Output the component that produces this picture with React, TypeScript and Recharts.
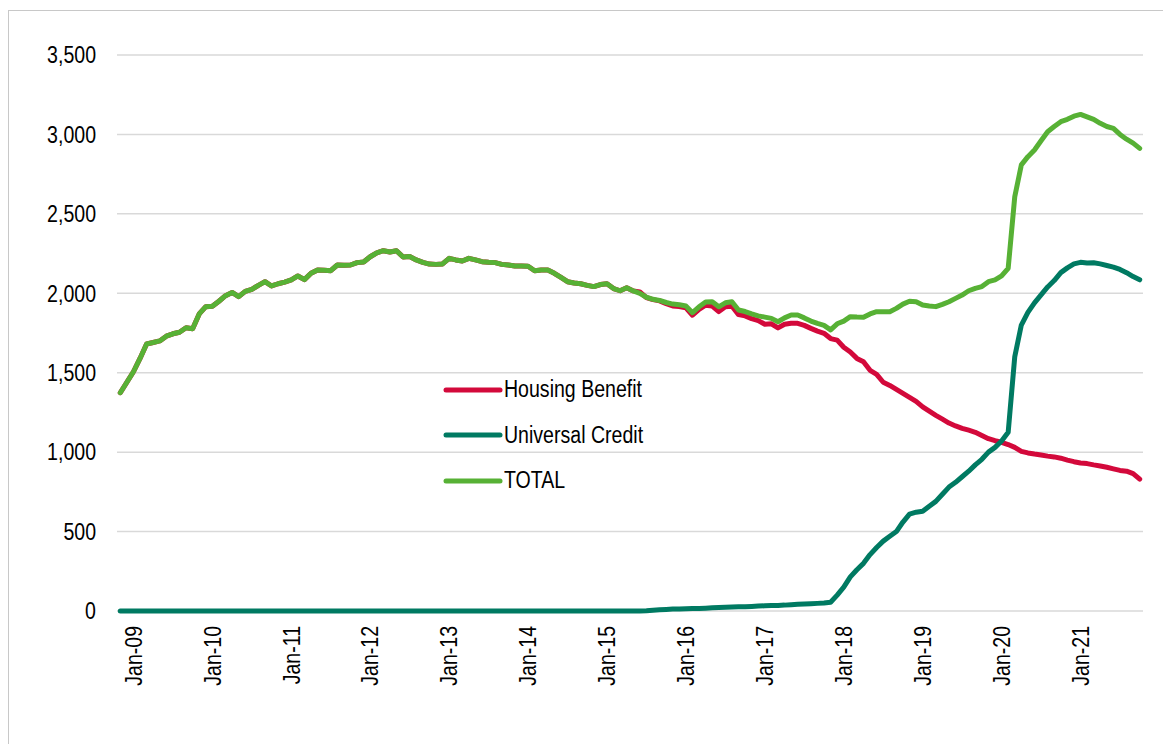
import React from 'react';
import { LineChart, Line, XAxis, YAxis, CartesianGrid, Legend } from 'recharts';

// Monthly series, Nov-08 (index 0) to Oct-21 (index 155), thousands of claimants
const housingBenefit = [
  1374, 1440, 1506, 1590, 1681, 1690, 1700, 1730, 1745, 1755,
  1783, 1777, 1870, 1916, 1918, 1950, 1985, 2005, 1979, 2012,
  2025, 2050, 2073, 2046, 2060, 2070, 2084, 2109, 2086, 2126,
  2147, 2145, 2142, 2178, 2176, 2178, 2193, 2197, 2230, 2255,
  2268, 2260, 2268, 2228, 2231, 2210, 2195, 2184, 2182, 2185,
  2220, 2210, 2203, 2220, 2210, 2199, 2195, 2193, 2182, 2178,
  2172, 2172, 2170, 2142, 2147, 2147, 2126, 2100, 2073, 2065,
  2060, 2050, 2042, 2055, 2060, 2030, 2016, 2035, 2015, 2008,
  1973, 1960, 1952, 1935, 1920, 1917, 1908, 1862, 1899, 1925,
  1920, 1885, 1916, 1918, 1866, 1858, 1840, 1828, 1805, 1808,
  1782, 1805, 1811, 1811, 1798, 1779, 1762, 1748, 1715, 1705,
  1660, 1630, 1590, 1569, 1515, 1490, 1440, 1420, 1395, 1370,
  1345, 1320, 1285, 1258, 1232, 1208, 1183, 1165, 1150, 1138,
  1125, 1105, 1085, 1072, 1062, 1048, 1030, 1005, 995, 988,
  982, 975, 970, 962, 950, 940, 932, 928, 920, 913,
  905, 895, 885, 880, 865, 830,
];

const universalCredit = [
  0, 0, 0, 0, 0, 0, 0, 0, 0, 0,
  0, 0, 0, 0, 0, 0, 0, 0, 0, 0,
  0, 0, 0, 0, 0, 0, 0, 0, 0, 0,
  0, 0, 0, 0, 0, 0, 0, 0, 0, 0,
  0, 0, 0, 0, 0, 0, 0, 0, 0, 0,
  0, 0, 0, 0, 0, 0, 0, 0, 0, 0,
  0, 0, 0, 0, 0, 0, 0, 0, 0, 0,
  0, 0, 0, 0, 0, 0, 0, 0, 0, 0,
  2, 5, 8, 10, 12, 13, 14, 15, 16, 18,
  20, 22, 24, 25, 26, 27, 29, 31, 33, 34,
  35, 37, 40, 42, 44, 46, 48, 50, 55, 100,
  150, 215, 260, 300, 355, 400, 440, 470, 500, 560,
  610, 622, 628, 660, 690, 735, 780, 810, 845, 880,
  920, 955, 1000, 1030, 1070, 1125, 1600, 1800, 1880, 1940,
  1990, 2040, 2080, 2130, 2160, 2185, 2195, 2190, 2192, 2185,
  2175, 2165, 2150, 2130, 2105, 2085,
];

const total = [
  1374, 1440, 1506, 1590, 1681, 1690, 1700, 1730, 1745, 1755,
  1783, 1777, 1870, 1916, 1918, 1950, 1985, 2005, 1979, 2012,
  2025, 2050, 2073, 2046, 2060, 2070, 2084, 2109, 2086, 2126,
  2147, 2145, 2142, 2178, 2176, 2178, 2193, 2197, 2230, 2255,
  2268, 2260, 2268, 2228, 2231, 2210, 2195, 2184, 2182, 2185,
  2220, 2210, 2203, 2220, 2210, 2199, 2195, 2193, 2182, 2178,
  2172, 2172, 2170, 2142, 2147, 2147, 2126, 2100, 2073, 2065,
  2060, 2050, 2042, 2055, 2060, 2030, 2016, 2035, 2015, 2000,
  1975, 1962, 1955, 1942, 1932, 1928, 1920, 1878, 1915, 1945,
  1947, 1915, 1940, 1947, 1895, 1885, 1870, 1858, 1850, 1842,
  1821, 1845, 1863, 1863, 1845, 1825, 1810, 1798, 1770, 1808,
  1825, 1853, 1850, 1849, 1870, 1884, 1884, 1884, 1905, 1932,
  1950, 1947, 1926, 1920, 1916, 1930, 1947, 1968, 1989, 2016,
  2031, 2042, 2073, 2084, 2109, 2157, 2608, 2808, 2860, 2902,
  2960, 3017, 3050, 3080, 3095, 3115, 3126, 3110, 3095, 3070,
  3050, 3038, 3000, 2970, 2945, 2912,
];

// January positions (month index) and their labels
const xTicks = [2, 14, 26, 38, 50, 62, 74, 86, 98, 110, 122, 134, 146];
const xTickLabels = ['Jan-09', 'Jan-10', 'Jan-11', 'Jan-12', 'Jan-13', 'Jan-14', 'Jan-15',
  'Jan-16', 'Jan-17', 'Jan-18', 'Jan-19', 'Jan-20', 'Jan-21'];
const yTicks = [0, 500, 1000, 1500, 2000, 2500, 3000, 3500];
const legendOrder = ['Housing Benefit', 'Universal Credit', 'TOTAL'];

// no Arial Narrow available: squeeze Liberation Sans horizontally
const FONT = "'Liberation Sans', Arial, sans-serif";
const NARROW = 0.85;
const HB_COLOR = '#D3093B';
const UC_COLOR = '#007A62';
const TOTAL_COLOR = '#57B135';

const data = total.map((t, i) => ({
  idx: i,
  hb: housingBenefit[i],
  uc: universalCredit[i],
  total: t,
}));

const XTick = (props: any) => {
  const { x, y, payload } = props;
  const pos = xTicks.indexOf(payload.value);
  const ty = y + 7;
  return (
    <text
      transform={`translate(${x}, ${ty}) rotate(-90) scale(${NARROW}, 1)`}
      dy="0.36em"
      textAnchor="end"
      fill="#000"
      fontSize={23}
      fontFamily={FONT}
    >
      {pos >= 0 ? xTickLabels[pos] : ''}
    </text>
  );
};

const YTick = (props: any) => {
  const { x, y, payload } = props;
  return (
    <text
      transform={`translate(${x}, ${y}) scale(${NARROW}, 1)`}
      dy="0.36em"
      textAnchor="end"
      fill="#000"
      fontSize={23}
      fontFamily={FONT}
    >
      {Number(payload.value).toLocaleString('en-GB')}
    </text>
  );
};

const LegendBox = (props: any) => {
  const items = [...(props.payload || [])].sort(
    (a: any, b: any) => legendOrder.indexOf(a.value) - legendOrder.indexOf(b.value),
  );
  return (
    <div style={{ fontFamily: FONT, fontSize: 23, color: '#000', lineHeight: 1 }}>
      {items.map((item: any) => (
        <div key={item.value} style={{ display: 'flex', alignItems: 'center', height: 45.5 }}>
          <svg width={61} height={10}>
            <line x1={3} y1={5} x2={57} y2={5} stroke={item.color} strokeWidth={5} strokeLinecap="round" />
          </svg>
          <span
            style={{
              display: 'inline-block',
              whiteSpace: 'nowrap',
              transform: `scaleX(${NARROW})`,
              transformOrigin: 'left center',
            }}
          >
            {item.value}
          </span>
        </div>
      ))}
    </div>
  );
};

export default function App() {
  return (
    <div
      style={{
        position: 'relative',
        top: 2,
        width: 1160,
        height: 760,
        border: '1px solid #c8c8c8',
        background: '#fff',
      }}
    >
      <LineChart
        width={1160}
        height={730}
        data={data}
        margin={{ top: 44, right: 26, bottom: 30, left: 0 }}
      >
        <CartesianGrid vertical={false} stroke="#d9d9d9" strokeWidth={1.5} />
        <XAxis
          dataKey="idx"
          type="number"
          domain={[-0.5, 155.5]}
          ticks={xTicks}
          interval={0}
          axisLine={false}
          tickLine={false}
          height={100}
          tick={<XTick />}
        />
        <YAxis
          domain={[0, 3500]}
          ticks={yTicks}
          width={108}
          axisLine={false}
          tickLine={false}
          tickMargin={15}
          tick={<YTick />}
        />
        <Legend
          layout="vertical"
          verticalAlign="middle"
          align="center"
          content={<LegendBox />}
          wrapperStyle={{ left: 434, top: 356, width: 260 }}
        />
        <Line
          name="Housing Benefit"
          dataKey="hb"
          stroke={HB_COLOR}
          strokeWidth={5}
          dot={false}
          strokeLinejoin="round"
          strokeLinecap="round"
          isAnimationActive={false}
        />
        <Line
          name="Universal Credit"
          dataKey="uc"
          stroke={UC_COLOR}
          strokeWidth={5}
          dot={false}
          strokeLinejoin="round"
          strokeLinecap="round"
          isAnimationActive={false}
        />
        <Line
          name="TOTAL"
          dataKey="total"
          stroke={TOTAL_COLOR}
          strokeWidth={5}
          dot={false}
          strokeLinejoin="round"
          strokeLinecap="round"
          isAnimationActive={false}
        />
      </LineChart>
    </div>
  );
}
